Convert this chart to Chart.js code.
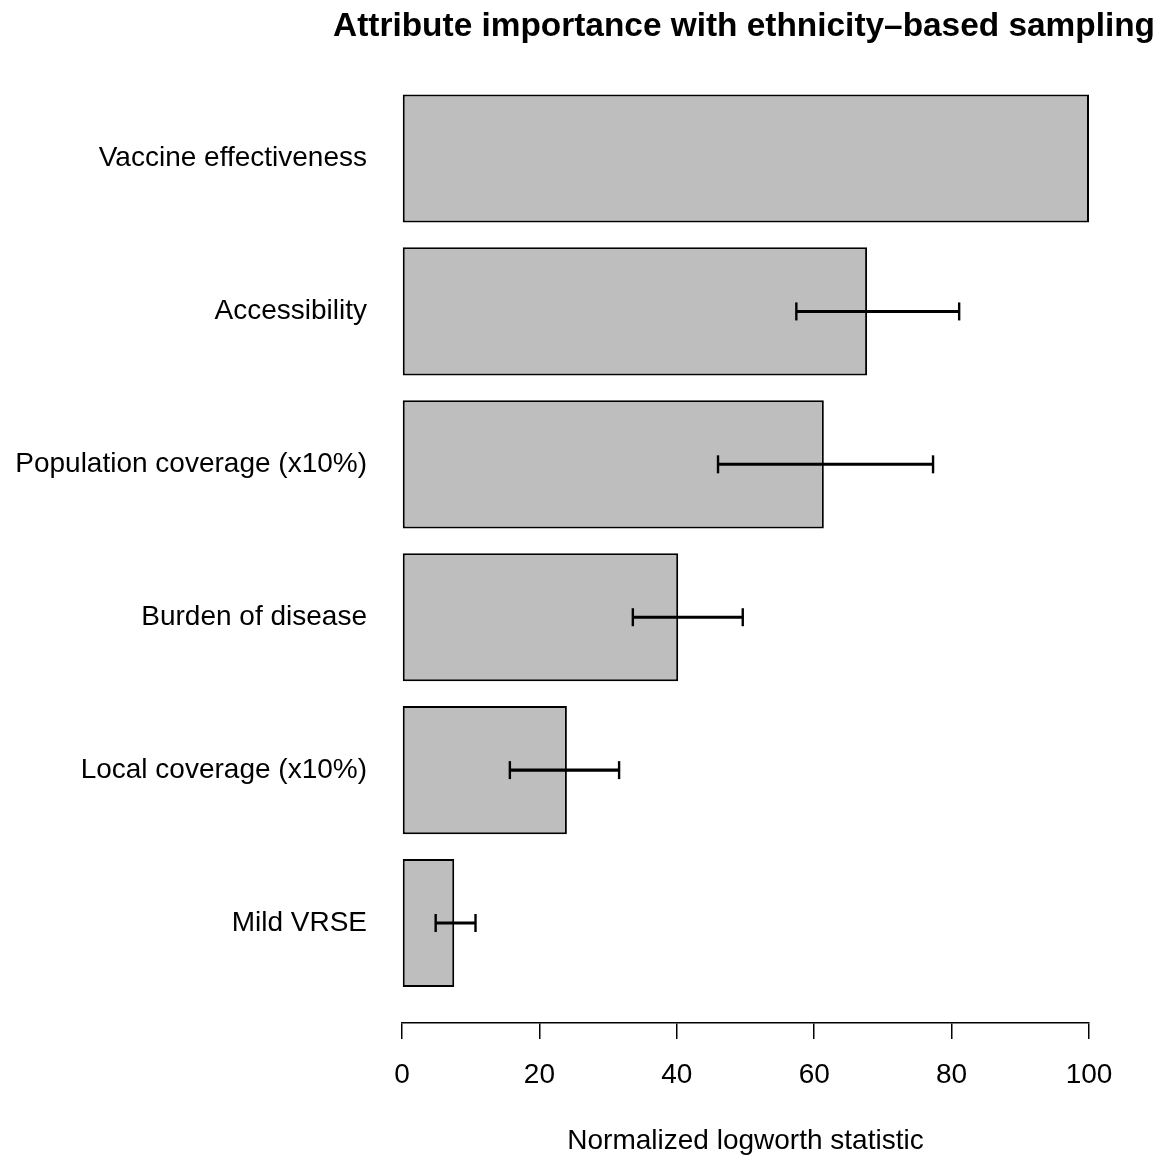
<!DOCTYPE html>
<html lang="en">
<head>
  <meta charset="UTF-8">
  <title>Attribute importance with ethnicity-based sampling</title>
  <script src="https://cdn.jsdelivr.net/npm/chart.js"></script>
  <style>
    body { margin: 0; background: #fff; }
  </style>
</head>
<body>
  <canvas id="importanceChart" width="1165" height="1160"></canvas>

  <script>
    const categories = [
      'Vaccine effectiveness',
      'Accessibility',
      'Population coverage (x10%)',
      'Burden of disease',
      'Local coverage (x10%)',
      'Mild VRSE'
    ];
    const importance = [100, 67.7, 61.4, 40.2, 24.0, 7.6];
    const errLow = [null, 57.4, 46.0, 33.6, 15.7, 4.9];
    const errHigh = [null, 81.1, 77.3, 49.6, 31.6, 10.7];
    const xTicks = [0, 20, 40, 60, 80, 100];

    const fontFamily = '"Liberation Sans", Arial, Helvetica, sans-serif';
    Chart.defaults.color = '#000';
    Chart.defaults.font.family = fontFamily;

    // error bar segments and caps
    const errSegments = [];
    const errCaps = [];
    categories.forEach((c, i) => {
      if (errLow[i] == null) return;
      errSegments.push({ x: [errLow[i], errHigh[i]], y: i });
      errCaps.push({ x: errLow[i], y: i });
      errCaps.push({ x: errHigh[i], y: i });
    });

    const ctx = document.getElementById('importanceChart').getContext('2d');
    new Chart(ctx, {
      type: 'bar',
      data: {
        datasets: [
          {
            type: 'bar',
            indexAxis: 'y',
            data: importance.map((v, i) => ({ x: v, y: i })),
            backgroundColor: '#bebebe',
            borderColor: '#000',
            borderWidth: 2,
            borderSkipped: false,
            barPercentage: 0.838,
            categoryPercentage: 1,
            grouped: false,
            order: 3
          },
          {
            type: 'bar',
            indexAxis: 'y',
            data: errSegments,
            backgroundColor: '#000',
            borderWidth: 0,
            barThickness: 2.4,
            grouped: false,
            order: 2
          },
          {
            type: 'scatter',
            data: errCaps,
            pointStyle: 'line',
            rotation: 90,
            radius: 9,
            borderWidth: 2.4,
            borderColor: '#000',
            order: 1
          }
        ]
      },
      options: {
        responsive: false,
        animation: false,
        layout: { padding: { left: 0, right: 10, top: 0, bottom: 0 } },
        plugins: {
          legend: { display: false },
          tooltip: { enabled: false },
          title: {
            display: true,
            align: 'end',
            text: 'Attribute importance with ethnicity\u2013based sampling',
            font: { size: 33.4, weight: 'bold' },
            color: '#000',
            padding: { top: 6.5, bottom: 35.5 }
          }
        },
        scales: {
          x: {
            type: 'linear',
            position: 'bottom',
            offset: false,
            min: 0,
            max: 100,
            afterBuildTicks: scale => { scale.ticks = xTicks.map(v => ({ value: v })); },
            grid: {
              display: true,
              offset: false,
              drawOnChartArea: false,
              drawTicks: true,
              tickLength: 16,
              color: '#000',
              lineWidth: 1.5
            },
            border: { display: true, color: '#000', width: 1.5 },
            ticks: {
              padding: 19,
              maxRotation: 0,
              font: { size: 28 },
              color: '#000'
            },
            title: {
              display: true,
              text: 'Normalized logworth statistic',
              font: { size: 28 },
              color: '#000',
              padding: { top: 13.6, bottom: 2.2 }
            }
          },
          y: {
            type: 'linear',
            reverse: true,
            offset: false,
            min: -0.5,
            max: 5.654,
            afterBuildTicks: scale => { scale.ticks = categories.map((c, i) => ({ value: i })); },
            afterFit: scale => { scale.width = 402; },
            grid: { display: false, drawTicks: false, offset: false },
            border: { display: false },
            ticks: {
              padding: 35,
              font: { size: 28 },
              color: '#000',
              callback: value => categories[value]
            }
          },
          // empty right margin so the plot ends at 100 while the title runs further right
          yRight: {
            type: 'linear',
            position: 'right',
            display: true,
            min: 0,
            max: 1,
            afterFit: scale => { scale.width = 66; },
            grid: { display: false, drawTicks: false },
            border: { display: false },
            ticks: { display: false }
          }
        }
      }
    });
  </script>
</body>
</html>
